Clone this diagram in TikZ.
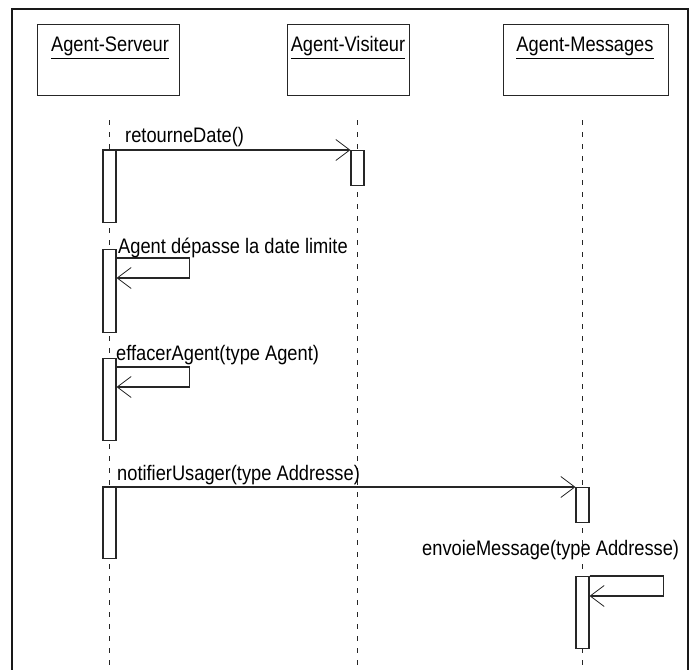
\documentclass[tikz,border=0pt]{standalone}
\usepackage{fontspec}
\newfontfamily\umlfont{Liberation Sans}[FakeStretch=0.87]
\usetikzlibrary{arrows.meta,calc}
\begin{document}
\begin{tikzpicture}[x=1pt,y=-1pt,
  ink/.style={draw=black!85, line width=1.1pt},
  objbox/.style={ink, rectangle, minimum height=71pt, anchor=north west, inner sep=0pt},
  act/.style={ink, fill=white, rectangle, minimum width=13pt, anchor=north, inner sep=0pt},
  lifeline/.style={draw=black!85, line width=1.2pt, dash pattern=on 5pt off 7pt},
  msg/.style={ink, -{Straight Barb[length=14pt, width=21pt, line width=0.8pt]}},
  lbl/.style={font=\umlfont\fontsize{21}{23}\selectfont, inner sep=0pt, anchor=base west},
  objname/.style={lbl, anchor=base},
]
\useasboundingbox (0,0) rectangle (690,669);

% outer frame (open at the bottom)
\draw[line width=2pt, black!90] (12,672) -- (12,9) -- (688,9) -- (688,672);

% objects
\node[objbox, minimum width=142pt] (srv) at (37,24) {};
\node[objbox, minimum width=122pt] (vis) at (287,24) {};
\node[objbox, minimum width=165pt] (mes) at (503,24) {};
\node[objname] (srvname) at (110,52) {\underline{Agent-Serveur}};
\node[objname] (visname) at (348,52) {\underline{Agent-Visiteur}};
\node[objname] (mesname) at (585,52) {\underline{Agent-Messages}};

% lifelines
\coordinate (l1top) at (109.5,120); \coordinate (l1bot) at (109.5,672);
\coordinate (l2top) at (357.5,120); \coordinate (l2bot) at (357.5,672);
\coordinate (l3top) at (582.5,120); \coordinate (l3bot) at (582.5,672);
\draw[lifeline] (l1top) -- (l1bot);
\draw[lifeline] (l2top) -- (l2bot);
\draw[lifeline] (l3top) -- (l3bot);

% activation bars
\node[act, minimum height=72pt] (a1) at (109.5,150) {};
\node[act, minimum height=35pt] (a2) at (357.5,150) {};
\node[act, minimum height=83pt] (a3) at (109.5,249) {};
\node[act, minimum height=82pt] (a4) at (109.5,358) {};
\node[act, minimum height=71pt] (a5) at (109.5,487) {};
\node[act, minimum height=35pt] (a6) at (582.5,487) {};
\node[act, minimum height=72pt] (a7) at (582.5,576) {};

% messages
\draw[msg] (a1.north west) -- (a2.north west);
\node[lbl] (m1) at (125,142) {retourneDate()};

\draw[msg] ($(a3.north east)+(0,9)$) -- ++(73,0) -- ++(0,20) -- ++(-73,0);
\node[lbl] (m2) at (118,253) {Agent dépasse la date limite};

\draw[msg] ($(a4.north east)+(0,9)$) -- ++(73,0) -- ++(0,20) -- ++(-73,0);
\node[lbl] (m3) at (116,360) {effacerAgent(type Agent)};

\draw[msg] (a5.north west) -- (a6.north west);
\node[lbl] (m4) at (117,480) {notifierUsager(type Addresse)};

\draw[msg] (a7.north east) -- ++(74,0) -- ++(0,20) -- ++(-74,0);
\node[lbl] (m5) at (422,555) {envoieMessage(type Addresse)};
\end{tikzpicture}
\end{document}
